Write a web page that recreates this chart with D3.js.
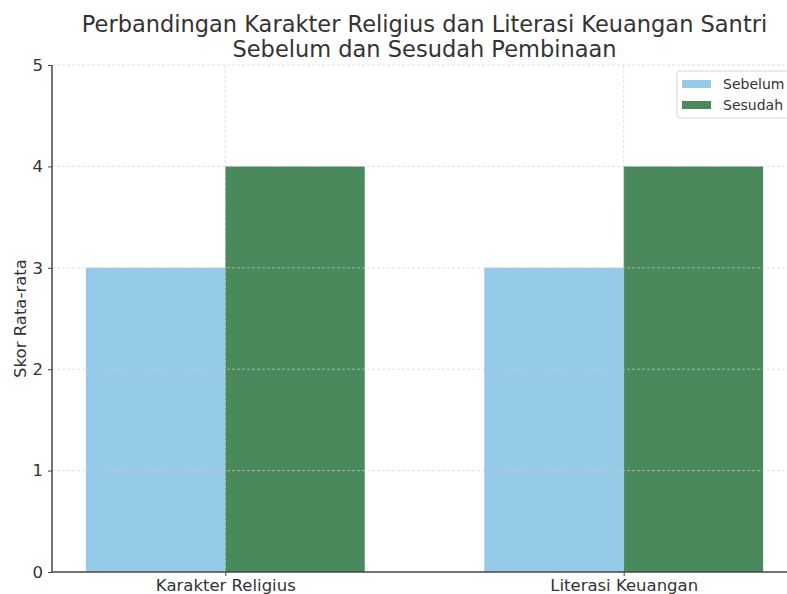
<!DOCTYPE html>
<meta charset="utf-8">
<script src="https://d3js.org/d3.v7.min.js"></script>
<style>
body { margin: 0; background: #fff; }
text { font-family: "DejaVu Sans", sans-serif; fill: #333; }
</style>
<div id="chart"></div>
<script>

const categories = ["Karakter Religius", "Literasi Keuangan"];
const series = ["Sebelum", "Sesudah"];
const sebelum = [3, 3];
const sesudah = [4, 4];
const yTicks = [0, 1, 2, 3, 4, 5];
const colors = ["#95cae8", "#4a895b"];

const W = 787, H = 594;
const m = {left: 52, right: 797, top: 65, bottom: 572};
const barW = 0.35;

const svg = d3.select("#chart").append("svg")
    .attr("width", W)
    .attr("height", H);

const x = d3.scaleLinear().domain([-0.435, 1.435]).range([m.left, m.right]);
const y = d3.scaleLinear().domain([0, 5]).range([m.bottom, m.top]);

// bars
const values = [sebelum, sesudah];
values.forEach((vals, s) => {
  svg.append("g").selectAll("rect")
    .data(vals)
    .join("rect")
      .attr("x", (d, i) => x(i + (s === 0 ? -barW : 0)))
      .attr("width", x(barW) - x(0))
      .attr("y", d => y(d))
      .attr("height", d => y(0) - y(d))
      .attr("fill", colors[s]);
});

// grid (drawn over bars, like matplotlib default)
const grid = svg.append("g")
    .attr("stroke", "#cfcfcf")
    .attr("stroke-width", 0.8)
    .attr("stroke-dasharray", "3,2")
    .attr("opacity", 0.8);
grid.selectAll(".gy").data(yTicks.slice(1)).join("line")
    .attr("x1", m.left).attr("x2", m.right)
    .attr("y1", d => y(d)).attr("y2", d => y(d));
grid.selectAll(".gx").data(categories).join("line")
    .attr("x1", (d, i) => x(i)).attr("x2", (d, i) => x(i))
    .attr("y1", m.top).attr("y2", m.bottom);

// axes
const yAxis = svg.append("g")
    .attr("transform", `translate(${m.left},0)`)
    .call(d3.axisLeft(y).tickValues(yTicks).tickFormat(d3.format("d")).tickSize(4).tickPadding(5));
const xAxis = svg.append("g")
    .attr("transform", `translate(0,${m.bottom})`)
    .call(d3.axisBottom(x).tickValues([0, 1]).tickFormat(i => categories[i]).tickSize(4).tickPadding(3));

[xAxis, yAxis].forEach(a => {
  a.select(".domain").attr("stroke", "#444").attr("stroke-width", 1.5);
  a.selectAll(".tick line").attr("stroke", "#444").attr("stroke-width", 1);
  a.selectAll("text").attr("font-size", 16.5).attr("fill", "#333")
    .attr("font-family", "DejaVu Sans, sans-serif");
});
yAxis.select(".domain").attr("d", `M0,${m.bottom}V${m.top}`);
xAxis.select(".domain").attr("d", `M${m.left},0H${m.right}`);

// y label
svg.append("text")
    .attr("transform", `translate(26,${(m.top + m.bottom) / 2}) rotate(-90)`)
    .attr("text-anchor", "middle")
    .attr("font-size", 16.5)
    .text("Skor Rata-rata");

// title
const title = svg.append("text")
    .attr("text-anchor", "middle")
    .attr("font-size", 22.5)
    .attr("fill", "#3a3a3a");
title.append("tspan").attr("x", (m.left + m.right) / 2).attr("y", 32)
    .text("Perbandingan Karakter Religius dan Literasi Keuangan Santri");
title.append("tspan").attr("x", (m.left + m.right) / 2).attr("y", 57)
    .text("Sebelum dan Sesudah Pembinaan");

// legend
const lg = svg.append("g").attr("transform", "translate(677,71)");
lg.append("rect")
    .attr("width", 118).attr("height", 47)
    .attr("rx", 3)
    .attr("fill", "#fff").attr("fill-opacity", 0.85)
    .attr("stroke", "#d6d6d6");
series.forEach((s, i) => {
  lg.append("rect")
      .attr("x", 5).attr("y", 9 + i * 21)
      .attr("width", 29).attr("height", 8)
      .attr("fill", colors[i]);
  lg.append("text")
      .attr("x", 46).attr("y", 18 + i * 21)
      .attr("font-size", 14)
      .text(s);
});

</script>
